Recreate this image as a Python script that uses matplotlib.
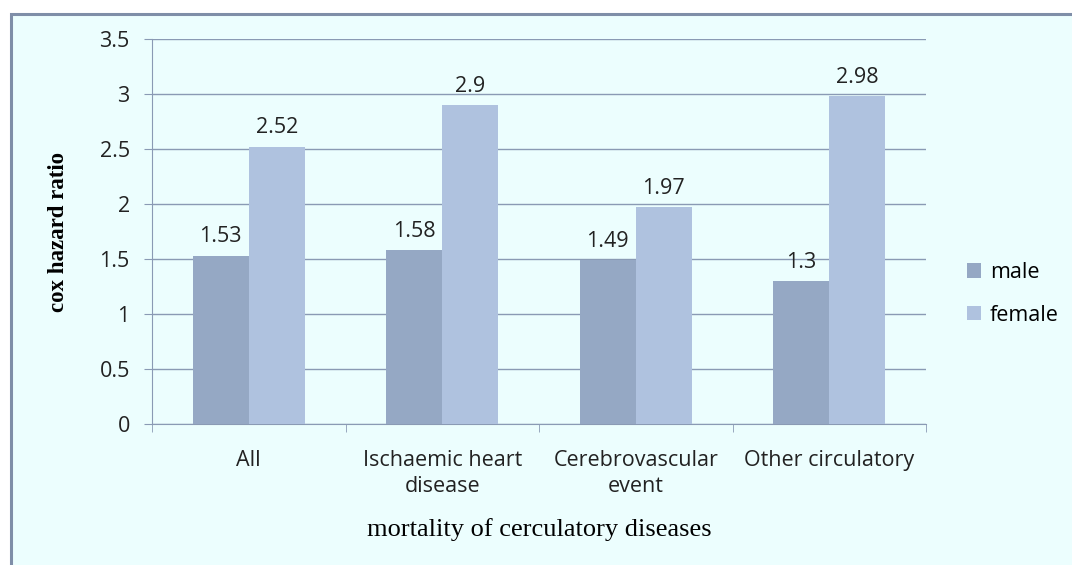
import matplotlib
matplotlib.use("Agg")
import matplotlib.pyplot as plt
import numpy as np
from matplotlib.patches import Rectangle

categories = ["All", "Ischaemic heart\ndisease", "Cerebrovascular\nevent", "Other circulatory"]
male = [1.53, 1.58, 1.49, 1.3]
female = [2.52, 2.9, 1.97, 2.98]
series_names = ["male", "female"]
yticks = [0, 0.5, 1, 1.5, 2, 2.5, 3, 3.5]
ytick_labels = ["0", "0.5", "1", "1.5", "2", "2.5", "3", "3.5"]

bg = "#ECFEFE"
male_c = "#95A8C4"
female_c = "#AFC2DF"
grid_c = "#8A9AB4"
txt_c = "#222222"
sans = ["Open Sans", "DejaVu Sans"]
serif = ["Liberation Serif", "DejaVu Serif"]
fs = 15.5

fig = plt.figure(figsize=(10.72, 5.65), dpi=100)
fig.patch.set_facecolor("white")
# chart frame
frame = Rectangle((11 / 1072, -0.01), 1.02, 1 - 14 / 565 + 0.01, transform=fig.transFigure,
                  facecolor=bg, edgecolor="#7F8EA8", linewidth=2.2, zorder=-10)
fig.patches.append(frame)

ax = fig.add_axes([152 / 1072, 1 - 424 / 565, (926 - 152) / 1072, (424 - 39) / 565])
ax.set_facecolor("none")
ax.set_zorder(5)

x = np.arange(len(categories))
w = 0.29
b1 = ax.bar(x - w / 2, male, w, color=male_c, label=series_names[0], zorder=3)
b2 = ax.bar(x + w / 2, female, w, color=female_c, label=series_names[1], zorder=3)

for bars, vals in ((b1, male), (b2, female)):
    for r, v in zip(bars, vals):
        ax.annotate(f"{v:g}", (r.get_x() + r.get_width() / 2, v), xytext=(0, 6),
                    textcoords="offset points", ha="center", va="bottom",
                    fontsize=fs, family=sans, color=txt_c)

ax.set_xlim(-0.5, len(categories) - 0.5)
ax.set_ylim(0, 3.5)
ax.set_yticks(yticks)
ax.set_yticklabels(ytick_labels, fontsize=fs, family=sans, color=txt_c)
ax.yaxis.grid(True, color=grid_c, linewidth=1.0, zorder=0)
ax.set_axisbelow(True)
ax.tick_params(axis="y", length=6, color=grid_c, pad=10)

ax.set_xticks(x)
ax.set_xticklabels(categories, fontsize=fs, family=sans, color=txt_c, linespacing=1.3)
ax.set_xticks(np.arange(len(categories) + 1) - 0.5, minor=True)
ax.tick_params(axis="x", which="major", length=0, pad=19)
ax.tick_params(axis="x", which="minor", length=6, color=grid_c, direction="out")

for s in ["top", "right"]:
    ax.spines[s].set_visible(False)
ax.spines["left"].set_color(grid_c)
ax.spines["bottom"].set_color(grid_c)

fig.text(59 / 1072, 1 - 232 / 565, "cox hazard ratio", rotation=90, ha="center", va="center",
         fontsize=16.5, family=serif, fontweight="bold", color="black")
fig.text(539 / 1072, 1 - 530 / 565, "mortality of cerculatory diseases", ha="center", va="center",
         fontsize=19, family=serif, color="black")

leg = fig.legend(handles=[b1, b2], labels=series_names, loc="center left",
                 bbox_to_anchor=(948 / 1072, 1 - 294 / 565), frameon=False,
                 prop={"family": sans, "size": fs}, handlelength=0.65, handleheight=0.65,
                 handletextpad=0.4, labelspacing=1.0)

fig.savefig("out.png", dpi=100, facecolor=fig.get_facecolor())
